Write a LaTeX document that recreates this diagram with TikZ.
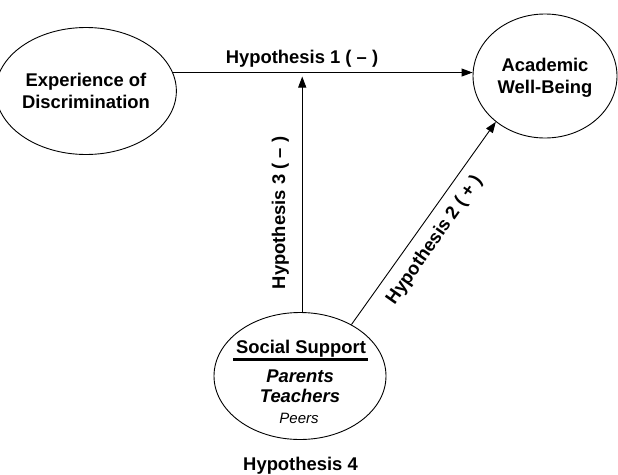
\documentclass[tikz,border=0pt]{standalone}
\usepackage{fontspec}
\setmainfont{Liberation Sans}
\usetikzlibrary{shapes.geometric,arrows.meta}

\tikzset{
  bubble/.style={draw, ellipse, line width=0.9pt, inner sep=0pt,
    align=center, text depth=0pt,
    font=\bfseries\fontsize{18.4}{21.5}\selectfont},
  hyp/.style={inner sep=0pt, anchor=base,
    font=\bfseries\fontsize{18.4}{21.5}\selectfont},
  link/.style={line width=0.9pt, -{Triangle[length=11pt,width=8pt]}}
}

\begin{document}
\begin{tikzpicture}[x=1pt, y=-1pt]
\useasboundingbox (0,0) rectangle (618,474);
\node[bubble, minimum width=152pt, minimum height=127pt] (disc)
	at (86,91) {Experience of\\Discrimination};
\node[bubble, minimum width=144pt, minimum height=124pt] (wellb)
	at (545,76) {Academic\\Well-Being};
\node[bubble, minimum width=172pt, minimum height=127pt] (supp)
	at (300,376) {};
% inside the support ellipse
\node[hyp] (sstitle) at (301,353.3) {Social Support};
\draw[line width=3pt] (233,359.3) -- (368,359.3);
\node[hyp, font=\bfseries\itshape\fontsize{18.4}{21.5}\selectfont]
	(parents) at (300,382.7) {Parents};
\node[hyp, font=\bfseries\itshape\fontsize{18.4}{21.5}\selectfont]
	(teachers) at (300,402) {Teachers};
\node[hyp, font=\itshape\fontsize{15}{18}\selectfont]
	(peers) at (299,423.3) {Peers};
% paths
\draw[link] (disc.12) -- (disc.12 -| wellb.west);
\draw[link, shorten >=4pt] (supp.88) -- (supp.88 |- disc.12);
\draw[link] (supp.45) -- (wellb.223);
\node[hyp] (h1) at (302,63.3) {Hypothesis 1 ( – )};
\node[hyp, rotate=90] (h3) at (285,213) {Hypothesis 3 ( – )};
\node[hyp, rotate=55] (h2) at (438.5,243) {Hypothesis 2 ( + )};
\node[hyp] (h4) at (300.5,470.5) {Hypothesis 4};
\end{tikzpicture}
\end{document}
